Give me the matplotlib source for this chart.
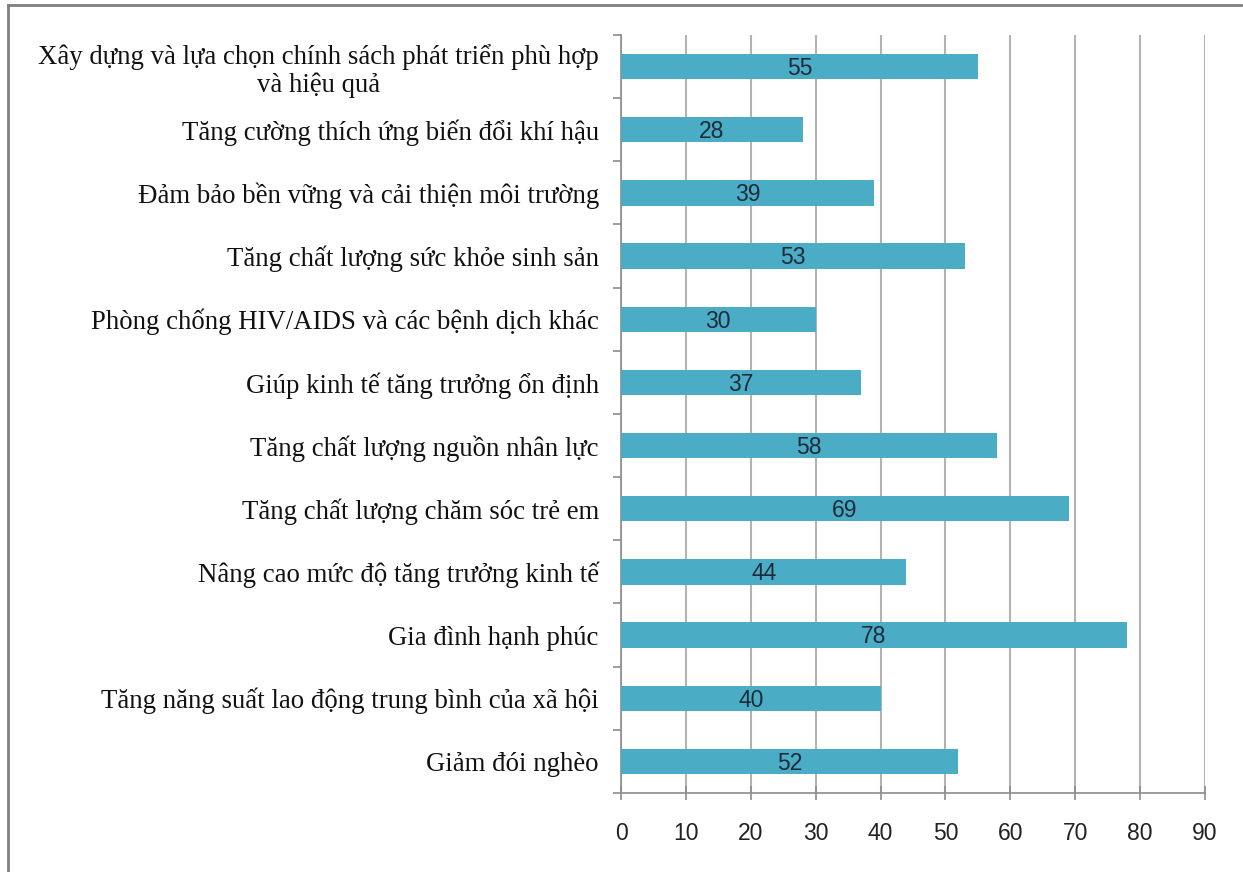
import numpy as np
import matplotlib
matplotlib.use("Agg")
from matplotlib import pyplot as plt
from matplotlib.lines import Line2D

# du lieu, tu tren xuong duoi
labels = [
    "Xây dựng và lựa chọn chính sách phát triển phù hợp\nvà hiệu quả",
    "Tăng cường thích ứng biến đổi khí hậu",
    "Đảm bảo bền vững và cải thiện môi trường",
    "Tăng chất lượng sức khỏe sinh sản",
    "Phòng chống HIV/AIDS và các bệnh dịch khác",
    "Giúp kinh tế tăng trưởng ổn định",
    "Tăng chất lượng nguồn nhân lực",
    "Tăng chất lượng chăm sóc trẻ em",
    "Nâng cao mức độ tăng trưởng kinh tế",
    "Gia đình hạnh phúc",
    "Tăng năng suất lao động trung bình của xã hội",
    "Giảm đói nghèo",
]
values = [55, 28, 39, 53, 30, 37, 58, 69, 44, 78, 40, 52]
xticks = [0, 10, 20, 30, 40, 50, 60, 70, 80, 90]

bar_color = "#4bacc6"
grid_color = "#b3b3b3"
axis_color = "#8c8c8c"

fig = plt.figure(figsize=(12.43, 8.72), dpi=100)
ax = fig.add_axes([0.4996, 0.0906, 0.4698, 0.8693])

y = np.arange(len(labels))
bars = ax.barh(y, values, height=0.4, color=bar_color, zorder=3)

for rect, v in zip(bars, values):
    ax.text(rect.get_width() / 2, rect.get_y() + rect.get_height() / 2 + 0.03, str(v),
            ha="center", va="center", fontsize=16.5, color="#1c2b3a",
            family="Liberation Sans", zorder=4)

ax.set_xlim(0, 90)
ax.set_ylim(len(labels) - 0.5, -0.5)
ax.set_xticks(xticks)
ax.set_xticklabels([str(t) for t in xticks], fontsize=16.5, family="Liberation Sans", color="#222222")

# nhan danh muc
ax.set_yticks(y)
ax.set_yticklabels(labels, fontsize=19.3, family="Liberation Serif", color="#111111",
                   multialignment="center", linespacing=1.12)
ax.tick_params(axis="y", length=0, pad=16)
# vach chia giua cac danh muc
ax.set_yticks(np.arange(len(labels) + 1) - 0.5, minor=True)
ax.tick_params(axis="y", which="minor", length=6, width=1.2, color=axis_color, direction="out")
ax.tick_params(axis="x", length=10, width=1.2, color=axis_color, direction="inout", pad=16)

ax.xaxis.grid(True, color=grid_color, linewidth=1.5, zorder=0)
ax.set_axisbelow(True)
for s in ["top", "right"]:
    ax.spines[s].set_visible(False)
for s in ["left", "bottom"]:
    ax.spines[s].set_color(axis_color)
    ax.spines[s].set_linewidth(1.2)

# khung ngoai
fig.add_artist(Line2D([0.0065, 0.0065], [0.0, 0.9945], color="#7f7f7f", linewidth=2, transform=fig.transFigure))
fig.add_artist(Line2D([0.0065, 0.998], [0.9945, 0.9945], color="#7f7f7f", linewidth=2, transform=fig.transFigure))

fig.savefig("out.png", dpi=100, facecolor="white")
